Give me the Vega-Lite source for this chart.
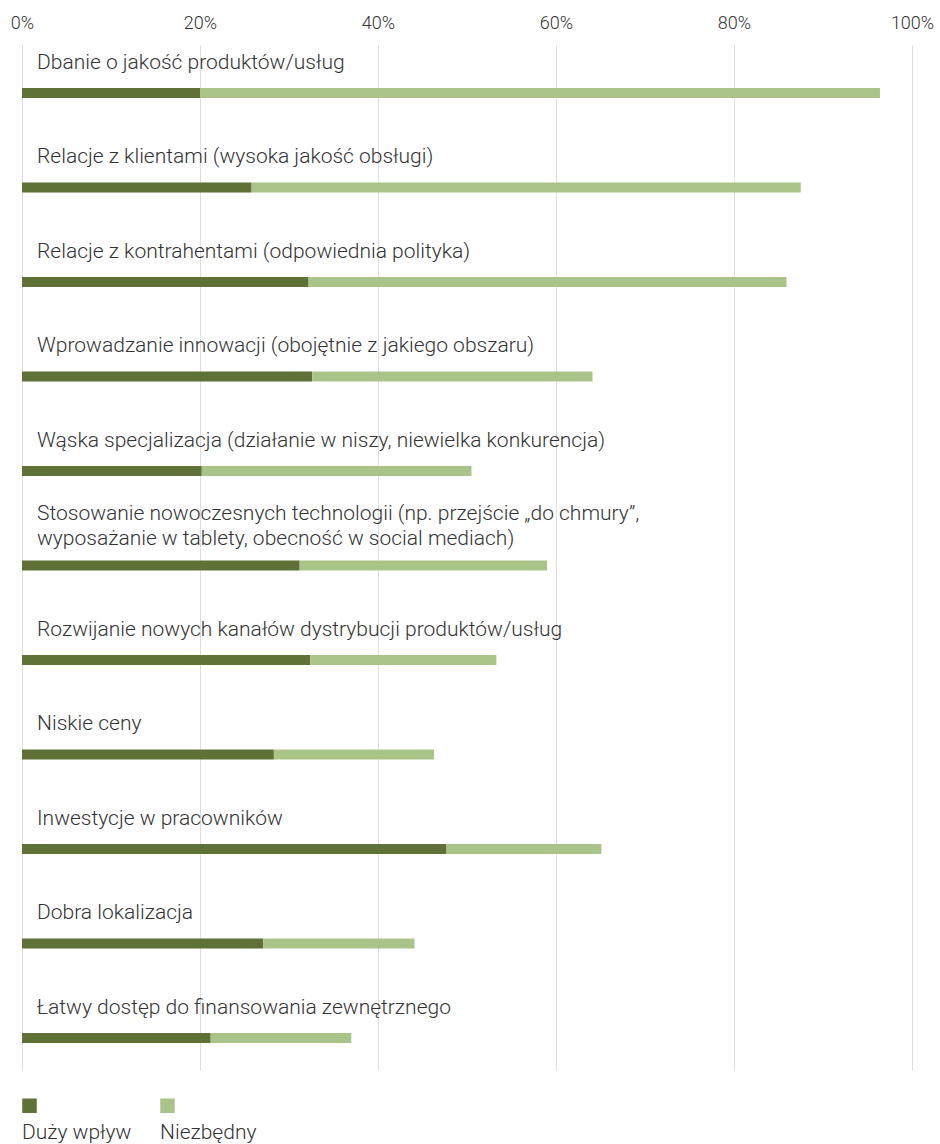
{
  "$schema": "https://vega.github.io/schema/vega-lite/v6.json",
  "width": 890,
  "height": 1025,
  "autosize": {"type": "none"},
  "padding": {"left": 22, "top": 45, "right": 28, "bottom": 74},
  "background": "white",
  "config": {
    "view": {"stroke": null},
    "font": "Roboto",
    "text": {"font": "Roboto"}
  },
  "data": {
    "values": [
      {"factor": "Dbanie o jakość produktów/usług", "label": "Dbanie o jakość produktów/usług", "series": "Duży wpływ", "ord": 1, "value": 20.0},
      {"factor": "Dbanie o jakość produktów/usług", "label": "Dbanie o jakość produktów/usług", "series": "Niezbędny", "ord": 2, "value": 76.4},
      {"factor": "Relacje z klientami (wysoka jakość obsługi)", "label": "Relacje z klientami (wysoka jakość obsługi)", "series": "Duży wpływ", "ord": 1, "value": 25.8},
      {"factor": "Relacje z klientami (wysoka jakość obsługi)", "label": "Relacje z klientami (wysoka jakość obsługi)", "series": "Niezbędny", "ord": 2, "value": 61.7},
      {"factor": "Relacje z kontrahentami (odpowiednia polityka)", "label": "Relacje z kontrahentami (odpowiednia polityka)", "series": "Duży wpływ", "ord": 1, "value": 32.2},
      {"factor": "Relacje z kontrahentami (odpowiednia polityka)", "label": "Relacje z kontrahentami (odpowiednia polityka)", "series": "Niezbędny", "ord": 2, "value": 53.7},
      {"factor": "Wprowadzanie innowacji (obojętnie z jakiego obszaru)", "label": "Wprowadzanie innowacji (obojętnie z jakiego obszaru)", "series": "Duży wpływ", "ord": 1, "value": 32.6},
      {"factor": "Wprowadzanie innowacji (obojętnie z jakiego obszaru)", "label": "Wprowadzanie innowacji (obojętnie z jakiego obszaru)", "series": "Niezbędny", "ord": 2, "value": 31.5},
      {"factor": "Wąska specjalizacja (działanie w niszy, niewielka konkurencja)", "label": "Wąska specjalizacja (działanie w niszy, niewielka konkurencja)", "series": "Duży wpływ", "ord": 1, "value": 20.2},
      {"factor": "Wąska specjalizacja (działanie w niszy, niewielka konkurencja)", "label": "Wąska specjalizacja (działanie w niszy, niewielka konkurencja)", "series": "Niezbędny", "ord": 2, "value": 30.3},
      {"factor": "Stosowanie nowoczesnych technologii", "multi": "Stosowanie nowoczesnych technologii (np. przejście „do chmury”,\nwyposażanie w tablety, obecność w social mediach)", "series": "Duży wpływ", "ord": 1, "value": 31.2},
      {"factor": "Stosowanie nowoczesnych technologii", "multi": "Stosowanie nowoczesnych technologii (np. przejście „do chmury”,\nwyposażanie w tablety, obecność w social mediach)", "series": "Niezbędny", "ord": 2, "value": 27.8},
      {"factor": "Rozwijanie nowych kanałów dystrybucji produktów/usług", "label": "Rozwijanie nowych kanałów dystrybucji produktów/usług", "series": "Duży wpływ", "ord": 1, "value": 32.4},
      {"factor": "Rozwijanie nowych kanałów dystrybucji produktów/usług", "label": "Rozwijanie nowych kanałów dystrybucji produktów/usług", "series": "Niezbędny", "ord": 2, "value": 20.9},
      {"factor": "Niskie ceny", "label": "Niskie ceny", "series": "Duży wpływ", "ord": 1, "value": 28.3},
      {"factor": "Niskie ceny", "label": "Niskie ceny", "series": "Niezbędny", "ord": 2, "value": 18.0},
      {"factor": "Inwestycje w pracowników", "label": "Inwestycje w pracowników", "series": "Duży wpływ", "ord": 1, "value": 47.7},
      {"factor": "Inwestycje w pracowników", "label": "Inwestycje w pracowników", "series": "Niezbędny", "ord": 2, "value": 17.4},
      {"factor": "Dobra lokalizacja", "label": "Dobra lokalizacja", "series": "Duży wpływ", "ord": 1, "value": 27.1},
      {"factor": "Dobra lokalizacja", "label": "Dobra lokalizacja", "series": "Niezbędny", "ord": 2, "value": 17.0},
      {"factor": "Łatwy dostęp do finansowania zewnętrznego", "label": "Łatwy dostęp do finansowania zewnętrznego", "series": "Duży wpływ", "ord": 1, "value": 21.2},
      {"factor": "Łatwy dostęp do finansowania zewnętrznego", "label": "Łatwy dostęp do finansowania zewnętrznego", "series": "Niezbędny", "ord": 2, "value": 15.8}
    ]
  },
  "encoding": {
    "y": {
      "field": "factor",
      "type": "nominal",
      "sort": null,
      "scale": {"paddingInner": 0.894, "paddingOuter": 0.37, "align": 0.614},
      "axis": null
    }
  },
  "layer": [
    {
      "mark": {"type": "bar"},
      "encoding": {
        "x": {
          "field": "value",
          "type": "quantitative",
          "stack": "zero",
          "scale": {"domain": [0, 100], "nice": false},
          "axis": {
            "orient": "top",
            "title": null,
            "values": [0, 20, 40, 60, 80, 100],
            "labelExpr": "datum.value + '%'",
            "ticks": false,
            "domain": false,
            "grid": true,
            "gridColor": "#dedede",
            "gridWidth": 1,
            "labelFont": "Roboto",
            "labelFontSize": 18,
            "labelFontWeight": 300,
            "labelColor": "#333333",
            "labelPadding": 13,
            "labelFlush": false
          }
        },
        "color": {
          "field": "series",
          "type": "nominal",
          "scale": {"domain": ["Duży wpływ", "Niezbędny"], "range": ["#5f7136", "#aac388"]},
          "legend": {
            "title": null,
            "orient": "none",
            "legendX": -3,
            "legendY": 1050,
            "direction": "horizontal",
            "symbolType": "square",
            "symbolSize": 210,
            "symbolStrokeWidth": 0,
            "labelFont": "Roboto",
            "labelFontSize": 21,
            "labelFontWeight": 300,
            "labelColor": "#333333",
            "labelOffset": -18,
            "columnPadding": 25,
            "encode": {"labels": {"update": {"dy": {"value": 27}}}}
          }
        },
        "order": {"field": "ord", "type": "quantitative"}
      }
    },
    {
      "transform": [{"filter": "datum.ord == 1 && isValid(datum.label)"}],
      "mark": {
        "type": "text",
        "align": "left",
        "baseline": "alphabetic",
        "dx": 15,
        "dy": -24,
        "font": "Roboto",
        "fontSize": 21,
        "fontWeight": 300,
        "color": "#333333"
      },
      "encoding": {
        "x": {"datum": 0, "type": "quantitative"},
        "text": {"field": "label"}
      }
    },
    {
      "transform": [{"filter": "datum.ord == 1 && isValid(datum.multi)"}],
      "mark": {
        "type": "text",
        "align": "left",
        "baseline": "alphabetic",
        "dx": 15,
        "dy": -45,
        "lineBreak": "\n",
        "lineHeight": 25,
        "font": "Roboto",
        "fontSize": 21,
        "fontWeight": 300,
        "color": "#333333"
      },
      "encoding": {
        "x": {"datum": 0, "type": "quantitative"},
        "text": {"field": "multi"}
      }
    }
  ]
}
